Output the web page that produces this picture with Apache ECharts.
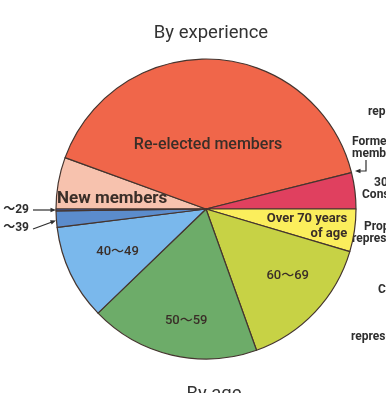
<!DOCTYPE html>
<html>
<head>
<meta charset="utf-8">
<style>
  html, body { margin: 0; padding: 0; background: #ffffff; }
  #chart { width: 386px; height: 393px; }
</style>
<script src="https://cdn.jsdelivr.net/npm/echarts@6/dist/echarts.min.js"></script>
</head>
<body>
<div id="chart"></div>
<script>
// Members by experience (upper half) and by age (lower half), out of 512 seats
const experienceNames = ['New members', 'Re-elected members', 'Former members'];
const experienceValues = [57, 415, 40];

const ageNames = ['Over 70 years\nof age', '60～69', '50～59', '40～49', '30～39', '20～29'];
const ageValues = [47, 153, 187, 105, 18, 2];

const experienceColors = ['#f7c2ae', '#f0664a', '#e0405f'];
const ageColors = ['#fbee5c', '#c7d245', '#6dac69', '#7ab8ec', '#5b8ccc', '#3f5ea6'];

// label nudges (dx, dy[, align]) relative to the default inside position
const experienceLabelShift = [[-17, 3], [-2, 14], null];
const ageLabelShift = [[64, 6, 'right'], [25, 13], [-2, 36], [-18, 9], null, null];

const CENTER = [206, 209];
const RADIUS = 150;
const INK = '#3a2e28';
const FONT = 'Roboto, "Liberation Sans", "Noto Sans CJK JP", sans-serif';

function buildData(names, values, colors, shifts, extra) {
  return names.map((n, i) => ({
    name: n,
    value: values[i],
    itemStyle: { color: colors[i] },
    label: shifts[i] ? Object.assign({ show: true }, extra[i] || {}) : { show: false }
  }));
}

const expLabelExtra = [
  { fontSize: 17, fontWeight: 'bold' },
  { fontSize: 16, fontWeight: 500 },
  null
];
const ageLabelExtra = [
  { align: 'right', fontSize: 13, fontWeight: 'bold', lineHeight: 15 },
  { fontSize: 13, fontWeight: 500 },
  { fontSize: 13, fontWeight: 500 },
  { fontSize: 13, fontWeight: 500 },
  null, null
];

function shiftLayout(shifts) {
  return function (params) {
    const s = shifts[params.dataIndex];
    if (!s) return {};
    const out = { dx: s[0], dy: s[1] };
    if (s[2]) out.align = s[2];
    return out;
  };
}

const baseSeries = {
  type: 'pie',
  center: CENTER,
  radius: RADIUS,
  clockwise: true,
  avoidLabelOverlap: false,
  silent: true,
  animation: false,
  itemStyle: { borderColor: '#45352f', borderWidth: 1.2 },
  label: {
    position: 'inside',
    color: INK,
    fontFamily: FONT
  },
  labelLine: { show: false },
  emphasis: { disabled: true }
};

function arrowHead(tip, from, size) {
  const ang = Math.atan2(tip[1] - from[1], tip[0] - from[0]);
  const a1 = ang + Math.PI - 0.4, a2 = ang + Math.PI + 0.4;
  return [tip, [tip[0] + size * Math.cos(a1), tip[1] + size * Math.sin(a1)],
               [tip[0] + size * Math.cos(a2), tip[1] + size * Math.sin(a2)]];
}

function sideText(x, y, text, align) {
  return {
    type: 'text', x: x, y: y, silent: true,
    style: {
      text: text, fill: '#2e2e2e', font: 'bold 12px ' + FONT,
      align: align || 'left', verticalAlign: 'middle'
    }
  };
}

const lineStyle = { stroke: '#2e2e2e', lineWidth: 1.2, fill: null };

const graphics = [
  // cut-off age labels on the left with pointer arrows
  sideText(29, 210, '20 ～29', 'right'),
  { type: 'polyline', shape: { points: [[33, 210], [52, 210]] }, style: lineStyle },
  { type: 'polygon', shape: { points: arrowHead([56, 210], [33, 210], 6) }, style: { fill: '#2e2e2e' } },
  sideText(29, 228, '30 ～39', 'right'),
  { type: 'polyline', shape: { points: [[33, 229], [52, 222]] }, style: lineStyle },
  { type: 'polygon', shape: { points: arrowHead([56, 220.5], [33, 229], 6) }, style: { fill: '#2e2e2e' } },

  // neighbouring annotations running off the right edge
  sideText(368, 112, 'representatives'),
  sideText(352, 142, 'Former'),
  sideText(352, 154, 'members'),
  { type: 'polyline', shape: { points: [[366, 160], [366, 171], [360, 171]] }, style: lineStyle },
  { type: 'polygon', shape: { points: arrowHead([355, 171], [366, 171], 6) }, style: { fill: '#2e2e2e' } },
  sideText(374, 183, '300'),
  sideText(362, 195, 'Constituencies'),
  sideText(364, 227, 'Proportional'),
  sideText(352, 239, 'representation'),
  sideText(378, 290, 'Constituencies'),
  sideText(351, 337, 'representation')
];

const chart = echarts.init(document.getElementById('chart'), null, { renderer: 'canvas' });
chart.setOption({
  backgroundColor: '#ffffff',
  animation: false,
  title: [
    {
      text: 'By experience', left: 206, textAlign: 'center', top: 19,
      textStyle: { fontSize: 18.5, fontWeight: 'normal', color: '#333', fontFamily: FONT }
    },
    {
      text: 'By age', left: 209, textAlign: 'center', top: 380,
      textStyle: { fontSize: 18.5, fontWeight: 'normal', color: '#333', fontFamily: FONT }
    }
  ],
  series: [
    Object.assign({}, baseSeries, {
      name: 'By experience',
      startAngle: 180,
      endAngle: 0,
      data: buildData(experienceNames, experienceValues, experienceColors, experienceLabelShift, expLabelExtra),
      labelLayout: shiftLayout(experienceLabelShift)
    }),
    Object.assign({}, baseSeries, {
      name: 'By age',
      startAngle: 0,
      endAngle: -180,
      data: buildData(ageNames, ageValues, ageColors, ageLabelShift, ageLabelExtra),
      labelLayout: shiftLayout(ageLabelShift)
    })
  ],
  graphic: graphics
});
</script>
</body>
</html>
